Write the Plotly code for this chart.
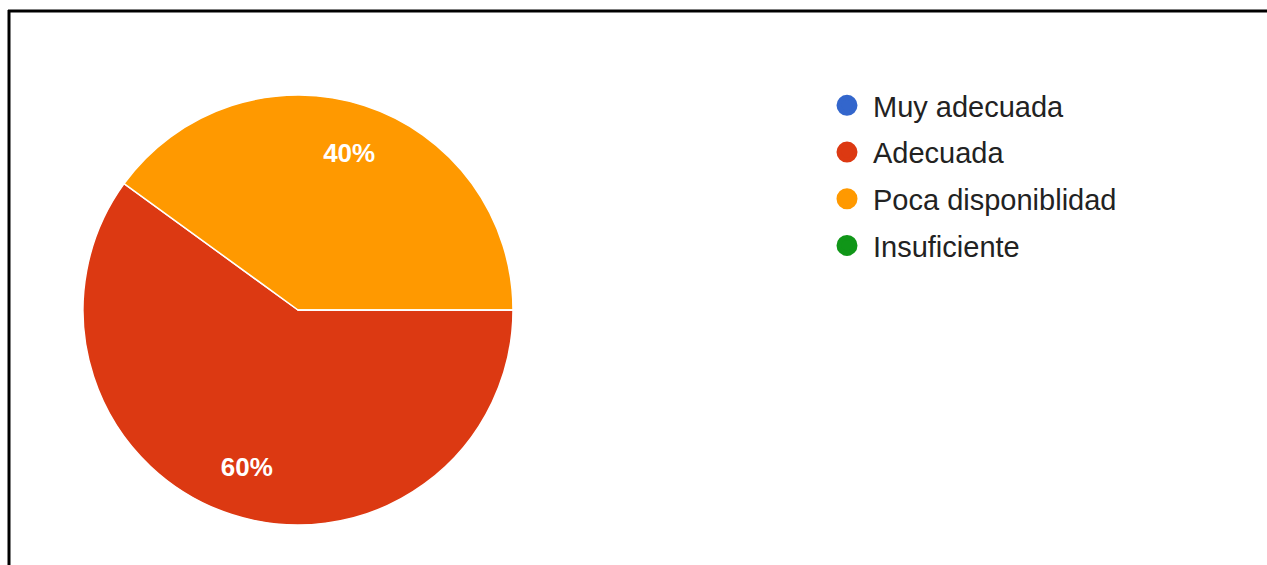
import plotly.graph_objects as go

categories = ["Muy adecuada", "Adecuada", "Poca disponiblidad", "Insuficiente"]
values = [0, 60, 40, 0]
colors = ["#3366CC", "#DC3912", "#FF9900", "#109618"]

W, H = 1267, 565
FONT = "Arial, 'Liberation Sans', sans-serif"
pie_domain = dict(x=[83 / W, 513 / W], y=[(H - 525) / H, (H - 95) / H])

fig = go.Figure()

# filled slices
fig.add_trace(go.Pie(
    labels=categories,
    values=values,
    marker=dict(colors=colors, line=dict(color="white", width=1.5)),
    sort=False,
    direction="clockwise",
    rotation=90,
    textinfo="none",
    showlegend=False,
    hoverinfo="label+percent",
    domain=pie_domain,
))

# transparent ring on top, only to place the percentage labels further out
fig.add_trace(go.Pie(
    labels=categories,
    values=values,
    marker=dict(colors=["rgba(0,0,0,0)"] * len(categories), line=dict(width=0)),
    hole=0.54,
    sort=False,
    direction="clockwise",
    rotation=90,
    texttemplate="%{percent:.0%}",
    textposition="inside",
    insidetextorientation="horizontal",
    textfont=dict(color="white", size=26, family=FONT, weight="bold"),
    showlegend=False,
    hoverinfo="skip",
    domain=pie_domain,
))

# legend entries (circle markers), one per category
for cat, col in zip(categories, colors):
    fig.add_trace(go.Scatter(
        x=[None], y=[None], mode="markers", name=cat,
        legendgroup=cat,
        marker=dict(symbol="circle", size=16, color=col, line=dict(color=col, width=5)),
        hoverinfo="skip",
    ))

fig.update_layout(
    width=W, height=H,
    margin=dict(l=0, r=0, t=0, b=0),
    paper_bgcolor="white",
    plot_bgcolor="white",
    xaxis=dict(visible=False),
    yaxis=dict(visible=False),
    font=dict(family=FONT, color="#222222"),
    legend=dict(
        x=821 / W, y=1 - 80 / H, xanchor="left", yanchor="top",
        font=dict(size=29, color="#222222", family=FONT),
        itemwidth=42,
        tracegroupgap=6,
        itemclick=False,
        bgcolor="rgba(0,0,0,0)",
    ),
    shapes=[
        dict(type="line", xref="paper", yref="paper", x0=8 / W, x1=1.01, y0=1 - 11 / H, y1=1 - 11 / H,
             line=dict(color="black", width=3)),
        dict(type="line", xref="paper", yref="paper", x0=9 / W, x1=9 / W, y0=-0.01, y1=1 - 10 / H,
             line=dict(color="black", width=3)),
    ],
)

fig.write_html("out.html", config={"displayModeBar": False},
               post_script="document.body.style.margin='0';document.body.style.overflow='hidden';")
